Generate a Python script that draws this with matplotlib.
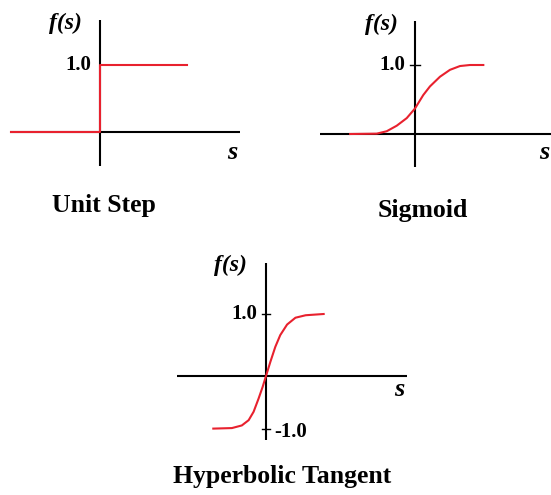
import numpy as np
import matplotlib.pyplot as plt

# values (s in axis units, f(s) in axis units)
step_s = [-1.33, 0.0, 0.0, 1.30]
step_f = [0.0, 0.0, 1.0, 1.0]

sig_s = [-0.94, -0.555, -0.41, -0.265, -0.12, 0.0, 0.12, 0.217, 0.362, 0.507, 0.652, 0.797, 0.99]
sig_f = [0.0, 0.005, 0.04, 0.12, 0.23, 0.37, 0.565, 0.69, 0.83, 0.93, 0.985, 1.0, 1.0]

tanh_s = [-0.85, -0.55, -0.39, -0.28, -0.20, -0.12, -0.055, 0.0, 0.07, 0.15, 0.23, 0.34, 0.475, 0.64, 0.93]
tanh_f = [-1.0, -0.99, -0.94, -0.84, -0.68, -0.43, -0.21, 0.0, 0.227, 0.47, 0.66, 0.83, 0.94, 0.98, 1.0]

titles = ['Unit Step', 'Sigmoid', 'Hyperbolic Tangent']

W, H = 551, 495
RED = '#e8212e'
LW = 1.5

plt.rcParams['font.family'] = ['Liberation Serif', 'DejaVu Serif']
fig = plt.figure(figsize=(W / 100, H / 100), dpi=100)


def panel(ox, oy, u, neg=1.0):
    # axes over the whole figure, origin at pixel (ox, oy), u pixels per unit
    ax = fig.add_axes([0, 0, 1, 1])
    ax.patch.set_alpha(0)
    ax.axis('off')
    ax.set_xlim(-ox / u, (W - ox) / u)
    if neg != 1.0:
        fwd = lambda v: np.where(v >= 0, v, v * neg)
        inv = lambda v: np.where(v >= 0, v, v / neg)
        ax.set_yscale('function', functions=(fwd, inv))
        ax.set_ylim((oy - H) / u / neg, oy / u)
    else:
        ax.set_ylim((oy - H) / u, oy / u)
    return ax


def axes_lines(ax, x0, x1, y0, y1):
    ax.plot([x0, x1], [0, 0], color='black', lw=LW, solid_capstyle='butt')
    ax.plot([0, 0], [y0, y1], color='black', lw=LW, solid_capstyle='butt')


bold = dict(fontweight='bold')
lab = dict(fontweight='bold', fontstyle='italic')
FS_T, FS_N, FS_F, FS_S = 18.5, 15, 17, 19

# Unit step
ax1 = panel(100, 132, 67)
axes_lines(ax1, -1.34, 2.09, -0.51, 1.67)
ax1.plot(step_s, step_f, color=RED, lw=LW, zorder=3)
ax1.text(-0.52, 1.62, 'f(s)', fontsize=FS_F, ha='center', va='center', **lab)
ax1.text(-0.13, 1.0, '1.0', fontsize=FS_N, ha='right', va='center', **bold)
ax1.text(1.98, -0.30, 's', fontsize=FS_S, ha='center', va='center', **lab)
ax1.text(0.06, -1.09, titles[0], fontsize=FS_T, ha='center', va='center', **bold)

# Sigmoid
ax2 = panel(415, 134, 69)
axes_lines(ax2, -1.38, 2.1, -0.48, 1.64)
ax2.plot([-0.07, 0.07], [1, 1], color='black', lw=1)
ax2.plot(sig_s, sig_f, color=RED, lw=LW, zorder=3)
ax2.text(-0.49, 1.59, 'f(s)', fontsize=FS_F, ha='center', va='center', **lab)
ax2.text(-0.14, 1.0, '1.0', fontsize=FS_N, ha='right', va='center', **bold)
ax2.text(1.87, -0.27, 's', fontsize=FS_S, ha='center', va='center', **lab)
ax2.text(0.12, -1.11, titles[1], fontsize=FS_T, ha='center', va='center', **bold)

# Hyperbolic tangent
ax3 = panel(266, 376, 62, neg=52.6 / 62)
axes_lines(ax3, -1.44, 2.28, -1.22, 1.82)
for t in [1.0, -1.0]:
    ax3.plot([-0.07, 0.07], [t, t], color='black', lw=1)
ax3.plot(tanh_s, tanh_f, color=RED, lw=LW, zorder=3)
ax3.text(-0.57, 1.79, 'f(s)', fontsize=FS_F, ha='center', va='center', **lab)
ax3.text(-0.14, 1.0, '1.0', fontsize=FS_N, ha='right', va='center', **bold)
ax3.text(0.14, -1.06, '-1.0', fontsize=FS_N, ha='left', va='center', **bold)
ax3.text(2.15, -0.26, 's', fontsize=FS_S, ha='center', va='center', **lab)
ax3.text(0.26, -1.92, titles[2], fontsize=FS_T, ha='center', va='center', **bold)

fig.savefig('out.png', dpi=100)
